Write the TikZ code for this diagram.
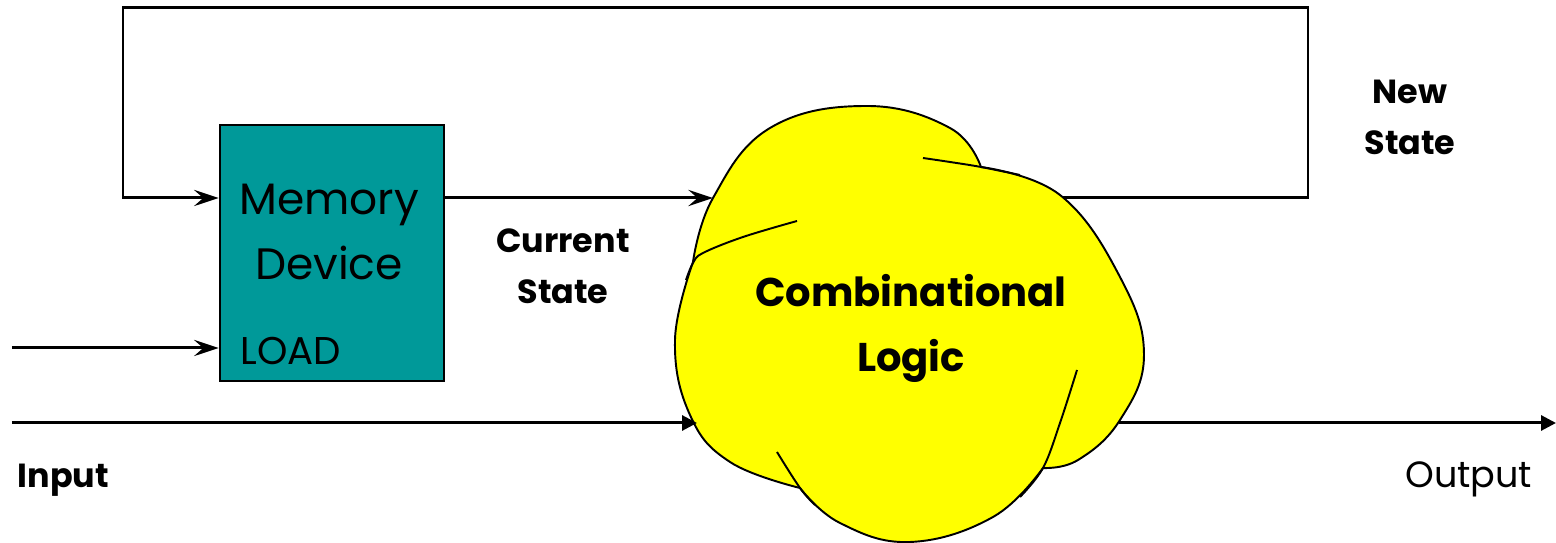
\documentclass[tikz,border=0pt]{standalone}
\usepackage{fontspec}
\setmainfont{Poppins}
\usetikzlibrary{arrows.meta}
\definecolor{memteal}{HTML}{009999}
\definecolor{logicyellow}{HTML}{FFFF00}
\tikzset{
  wire/.style={line width=0.85pt},
  barb/.style={-{Stealth[length=7pt,width=4.6pt,inset=2.6pt]}},
  solidtip/.style={-{Triangle[length=4.2pt,width=4.2pt]}},
  memorybox/.style={draw, line width=0.7pt, fill=memteal, minimum width=2.24cm, minimum height=2.56cm, inner sep=0pt},
  blob/.style={draw, line width=0.55pt, fill=logicyellow},
  fold/.style={line width=0.55pt},
  bigtext/.style={align=center, font=\fontsize{12.5}{18.5}\selectfont, inner sep=0pt},
  label/.style={align=center, font=\fontsize{9.5}{14.5}\selectfont\bfseries, inner sep=0pt}
}
\begin{document}
\begin{tikzpicture}[x=0.01cm, y=-0.01cm]
\useasboundingbox (0,0) rectangle (1556,543);

% memory element
\node[memorybox] (mem) at (332,253) {};
\node[bigtext] (memtxt) at (329,232) {Memory\\Device};
\node[anchor=base west, inner sep=0pt, font=\fontsize{11}{13}\selectfont] (load) at (240,365) {LOAD};

% combinational logic cloud: four overlapping lobes
\path[blob]
  plot[smooth, tension=0.7] coordinates {(693,262) (713,198) (770,128) (867,106) (950,128) (981,167)}
  -- plot[smooth, tension=0.7] coordinates {(981,167) (1060,195) (1120,277) (1144,355) (1120,420) (1078,460) (1043,468)}
  -- plot[smooth, tension=0.7] coordinates {(1043,468) (993,517) (910,542) (840,523) (800,488)}
  -- plot[smooth, tension=0.7] coordinates {(800,488) (730,462) (690,415) (675,340) (693,262)}
  -- cycle;
\draw[fold] plot[smooth, tension=0.6] coordinates {(923,158) (950,162) (981,167) (1020,175)};
\draw[fold] plot[smooth, tension=0.6] coordinates {(1077,370) (1060,423) (1043,468) (1020,497)};
\draw[fold] plot[smooth, tension=0.6] coordinates {(777,452) (800,488) (815,505)};
\draw[fold] plot[smooth, tension=0.6] coordinates {(797,221) (743,237) (703,253) (693,263) (686,280)};
\node[bigtext, font=\fontsize{11.4}{18.5}\selectfont\bfseries] (cltxt) at (911,328) {Combinational\\Logic};

% points where the wires meet the cloud
\coordinate (clin) at (713,198);
\coordinate (clin2) at (697,423);
\coordinate (clout) at (1063,198);
\coordinate (clout2) at (1119,423);
\coordinate (fbTR) at (1308,8);
\coordinate (fbBL) at (123,198);
\coordinate (loadsrc) at (12,348);
\coordinate (insrc) at (12,423);
\coordinate (outdst) at (1556,423);

% wires
\draw[wire, barb] (clout) -| (fbTR) -| (fbBL) -- (mem.west |- fbBL);
\draw[wire, barb] (mem.east |- clin) -- (clin);
\draw[wire, barb] (loadsrc) -- (mem.west |- loadsrc);
\draw[wire, solidtip] (insrc) -- (clin2);
\draw[wire, solidtip] (clout2) -- (outdst);

% signal labels
\node[label] (cur) at (563,266) {Current\\State};
\node[label] (new) at (1410,117) {New\\State};
\node[label, anchor=base west] (inp) at (17,488) {Input};
\node[label, anchor=base east, font=\fontsize{10.4}{14.5}\selectfont] (outp) at (1533,488) {Output};
\end{tikzpicture}
\end{document}
